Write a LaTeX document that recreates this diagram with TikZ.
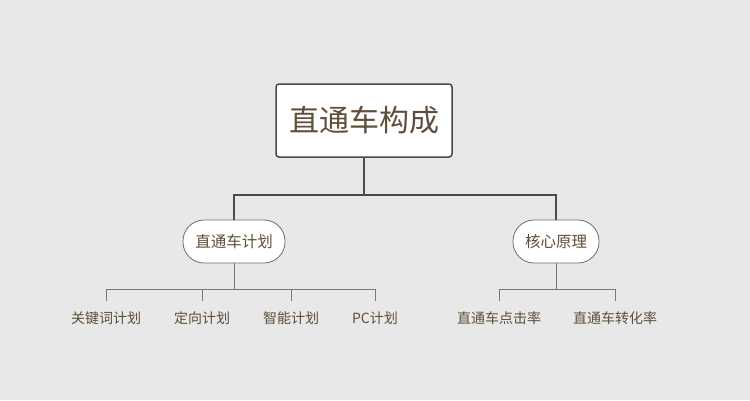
\documentclass[tikz,border=0pt]{standalone}
\usepackage{fontspec}
\setmainfont{Noto Sans CJK SC}
\begin{document}
\begin{tikzpicture}[x=1pt,y=-1pt,
  txt/.style={text=brn, inner sep=0pt},
  rootbox/.style={draw=dk, line width=1.5pt, fill=white, rounded corners=3pt, minimum width=176pt, minimum height=73pt, txt, font=\fontsize{30}{36}\selectfont},
  pill/.style={draw=dk!80, line width=0.8pt, fill=white, rounded corners=21pt, minimum height=43pt, txt, font=\fontsize{15.5}{18}\selectfont},
  leaf/.style={txt, font=\fontsize{14}{17}\selectfont},
  mainline/.style={draw=dk, line width=1.6pt},
  subline/.style={draw=dk!75, line width=0.9pt}]
\definecolor{brn}{HTML}{5E4E3A}
\definecolor{dk}{HTML}{454B53}
\fill[black!9] (0,0) rectangle (750,400);
\useasboundingbox (0,0) rectangle (750,400);
\node[rootbox] (r) at (364,120.5) {直通车构成};
\node[pill, minimum width=102pt] (a) at (234,241.5) {直通车计划};
\node[pill, minimum width=86pt] (b) at (556,241.5) {核心原理};
\coordinate (j) at (364,195);
\draw[mainline] (r.south) -- (j);
\draw[mainline] (a.north) |- (j) -| (b.north);
\node[leaf] (l1) at (106,318) {关键词计划};
\node[leaf] (l2) at (202,318) {定向计划};
\node[leaf] (l3) at (291,318) {智能计划};
\node[leaf] (l4) at (375,318) {PC计划};
\node[leaf] (m1) at (499,318) {直通车点击率};
\node[leaf] (m2) at (615,318) {直通车转化率};
\coordinate (ja) at (234,289);
\coordinate (jb) at (556,289);
\draw[subline] (a.south) -- (ja);
\draw[subline] (b.south) -- (jb);
\draw[subline] (106,301) -- (106,289) -- (375,289) -- (375,301);
\draw[subline] (202,289) -- (202,301);
\draw[subline] (291,289) -- (291,301);
\draw[subline] (499,301) -- (499,289) -- (615,289) -- (615,301);
\end{tikzpicture}
\end{document}
